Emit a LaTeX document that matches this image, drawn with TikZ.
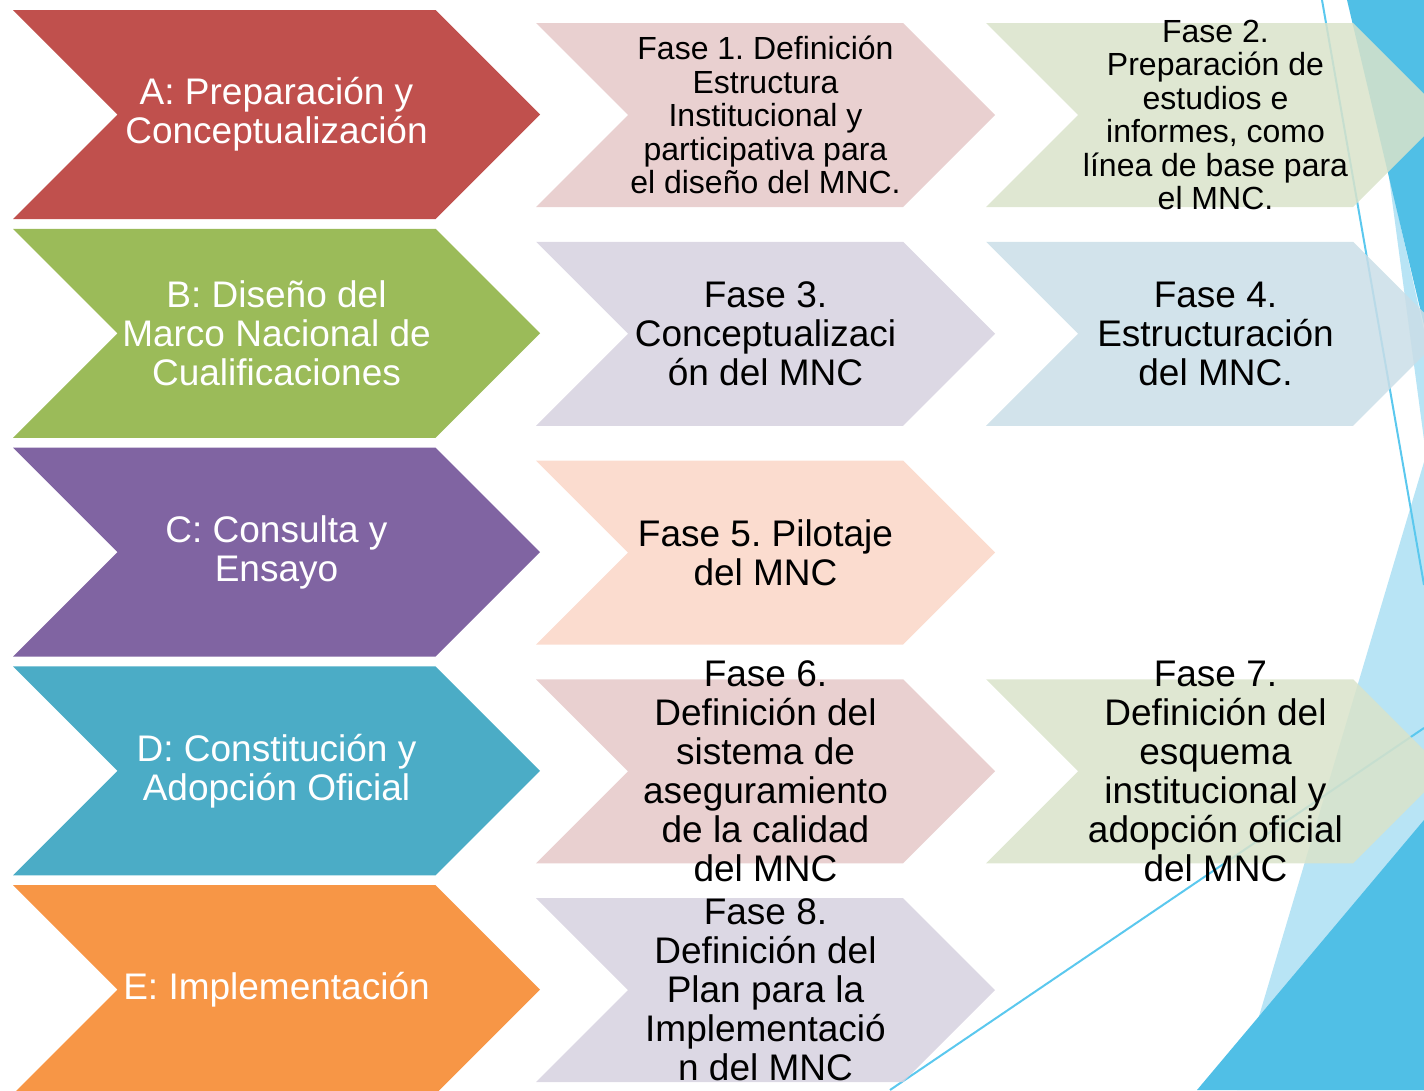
\documentclass[tikz,border=0pt]{standalone}
\usepackage{fontspec}
\setmainfont{Liberation Sans}
\frenchspacing
\definecolor{cA}{HTML}{C0504D}
\definecolor{cB}{HTML}{9BBB59}
\definecolor{cC}{HTML}{8064A2}
\definecolor{cD}{HTML}{4BACC6}
\definecolor{cE}{HTML}{F79646}
\definecolor{pRed}{HTML}{E5C8C8}
\definecolor{pGreen}{HTML}{D9E3CA}
\definecolor{pPurple}{HTML}{D6D1DF}
\definecolor{pBlue}{HTML}{CADEE7}
\definecolor{pPeach}{HTML}{FAD6C7}
\definecolor{bgDark}{HTML}{50BFE6}
\definecolor{bgLight}{HTML}{B8E4F5}
\definecolor{bgLine}{HTML}{5BC8EE}
\newcommand\mychevron[6]{%
  \pgfmathsetmacro\cxr{#3+#5}%
  \pgfmathsetmacro\cxs{#3+#5-#6/2}%
  \pgfmathsetmacro\cxn{#3+#6/2}%
  \pgfmathsetmacro\cym{#4+#6/2}%
  \pgfmathsetmacro\cyb{#4+#6}%
  \fill[#2] (#3,#4) -- (\cxs,#4) -- (\cxr,\cym) -- (\cxs,\cyb) -- (#3,\cyb) -- (\cxn,\cym) -- cycle;
  \coordinate (#1) at ({(\cxn+\cxs)/2},\cym);
}
\tikzset{
  bigtext/.style={text=white, align=center, inner sep=0pt, font=\fontsize{37}{39}\selectfont},
  phtext/.style={text=black, align=center, inner sep=0pt, font=\fontsize{37}{39}\selectfont},
  phsmall/.style={text=black, align=center, inner sep=0pt, font=\fontsize{32}{33.5}\selectfont},
  phfill/.style={fill=#1, fill opacity=0.85},
  bgline/.style={draw=bgLine, line width=2pt}
}
\begin{document}
\begin{tikzpicture}[x=1pt,y=-1pt]
\useasboundingbox (0,0) rectangle (1424,1090);
\clip (0,0) rectangle (1424,1090);
% background decoration
\fill[bgLight] (1424,462) -- (1237,1090) -- (1424,1090) -- cycle;
\fill[bgDark] (1197,1090) -- (1424,820) -- (1424,1090) -- cycle;
\fill[bgLight] (1388,170) -- (1424,330) -- (1424,440) -- cycle;
\fill[bgDark] (1347,0) -- (1424,0) -- (1424,325) -- cycle;
\draw[bgline] (1322,0) -- (1424,585);
\draw[bgline] (890,1090) -- (1424,728);
% big chevrons
\mychevron{kA}{cA}{13}{10}{527}{209}
\mychevron{kB}{cB}{13}{228.75}{527}{209}
\mychevron{kC}{cC}{13}{447.5}{527}{209}
\mychevron{kD}{cD}{13}{666.25}{527}{209}
\mychevron{kE}{cE}{13}{885}{527}{209}
% phase chevrons
\mychevron{k1}{phfill=pRed}{536}{23}{459}{184}
\mychevron{k2}{phfill=pGreen}{986}{23}{459}{184}
\mychevron{k3}{phfill=pPurple}{536}{241.75}{459}{184}
\mychevron{k4}{phfill=pBlue}{986}{241.75}{459}{184}
\mychevron{k5}{phfill=pPeach}{536}{460.5}{459}{184}
\mychevron{k6}{phfill=pRed}{536}{679.25}{459}{184}
\mychevron{k7}{phfill=pGreen}{986}{679.25}{459}{184}
\mychevron{k8}{phfill=pPurple}{536}{898}{459}{184}
% texts
\node[bigtext] (tA) at (kA) {A: Preparación y\\Conceptualización};
\node[bigtext] (tB) at (kB) {B: Diseño del\\Marco Nacional de\\Cualificaciones};
\node[bigtext] (tC) at (kC) {C: Consulta y\\Ensayo};
\node[bigtext] (tD) at (kD) {D: Constitución y\\Adopción Oficial};
\node[bigtext] (tE) at (kE) {E: Implementación};
\node[phsmall] (t1) at (k1) {Fase 1. Definición\\Estructura\\Institucional y\\participativa para\\el diseño del MNC.};
\node[phsmall] (t2) at (k2) {Fase 2.\\Preparación de\\estudios e\\informes, como\\línea de base para\\el MNC.};
\node[phtext] (t3) at (k3) {Fase 3.\\Conceptualizaci\\ón del MNC};
\node[phtext] (t4) at (k4) {Fase 4.\\Estructuración\\del MNC.};
\node[phtext] (t5) at (k5) {Fase 5. Pilotaje\\del MNC};
\node[phtext] (t6) at (k6) {Fase 6.\\Definición del\\sistema de\\aseguramiento\\de la calidad\\del MNC};
\node[phtext] (t7) at (k7) {Fase 7.\\Definición del\\esquema\\institucional y\\adopción oficial\\del MNC};
\node[phtext] (t8) at (k8) {Fase 8.\\Definición del\\Plan para la\\Implementació\\n del MNC};
\end{tikzpicture}
\end{document}
